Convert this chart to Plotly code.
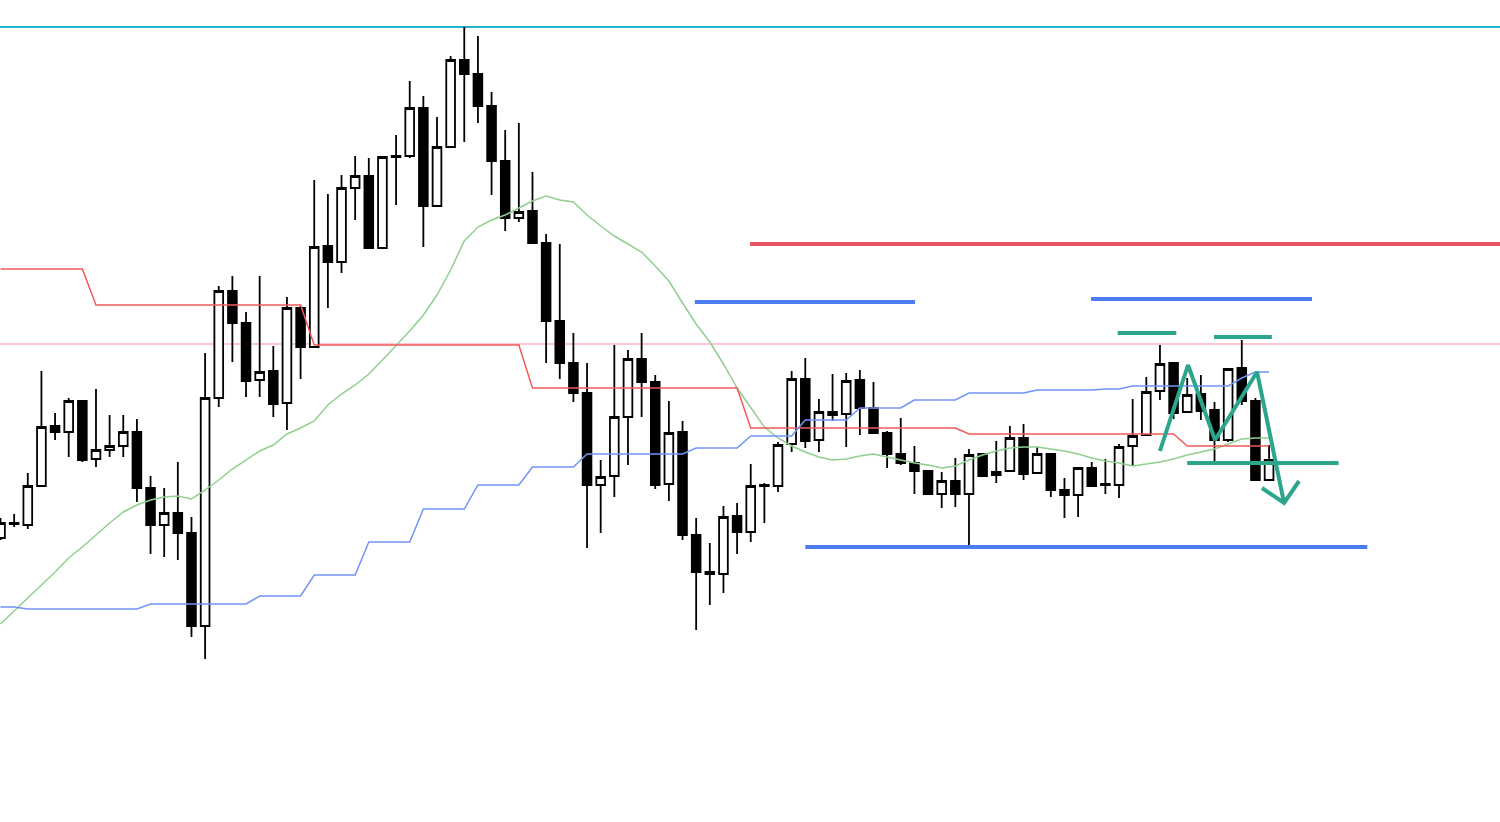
import plotly.graph_objects as go

# ---- data (price units) ----
open_ = [284, 299, 297, 336, 396, 390, 421, 363, 372, 376,
         390, 334, 297, 309, 289, 196, 424, 531, 499, 442,
         451, 419, 514, 475, 576, 560, 634, 646, 574, 665,
         666, 714, 616, 675, 762, 748, 716, 661, 604, 611,
         579, 501, 459, 429, 337, 346, 405, 463, 440, 338,
         390, 287, 250, 248, 306, 290, 336, 336, 378, 443,
         382, 410, 408, 442, 414, 389, 368, 359, 351, 328,
         341, 328, 368, 347, 351, 384, 349, 368, 332, 327,
         354, 338, 337, 376, 387, 431, 459, 410, 428, 412,
         382, 454, 421, 342]
high = [304, 308, 349, 451, 409, 424, 422, 433, 407, 407,
        403, 346, 334, 360, 305, 469, 536, 546, 510, 546,
        476, 525, 516, 642, 628, 647, 666, 664, 666, 687,
        741, 726, 705, 766, 795, 786, 730, 692, 699, 650,
        588, 578, 489, 459, 362, 477, 472, 489, 447, 421,
        401, 304, 279, 316, 319, 358, 339, 380, 451, 464,
        423, 448, 449, 452, 440, 391, 404, 376, 351, 350,
        364, 373, 368, 381, 396, 398, 375, 368, 344, 354,
        360, 363, 378, 423, 445, 477, 459, 444, 447, 420,
        453, 482, 424, 377]
low = [282, 295, 293, 335, 382, 365, 360, 355, 365, 365,
       320, 268, 265, 262, 185, 163, 415, 460, 425, 425,
       405, 392, 443, 474, 514, 549, 602, 574, 574, 617,
       664, 575, 616, 675, 680, 699, 627, 591, 600, 579,
       459, 443, 420, 274, 289, 325, 357, 405, 333, 321,
       282, 192, 217, 229, 268, 280, 299, 330, 370, 374,
       370, 401, 375, 387, 388, 354, 357, 328, 328, 314,
       315, 273, 346, 339, 351, 342, 349, 325, 304, 305,
       335, 328, 324, 356, 386, 422, 403, 410, 402, 359,
       380, 417, 342, 342]
close = [299, 298, 336, 395, 390, 421, 362, 372, 376, 390,
         334, 297, 309, 289, 196, 424, 531, 499, 441, 450,
         418, 514, 475, 575, 560, 634, 646, 574, 665, 666,
         714, 616, 675, 762, 748, 716, 661, 604, 610, 579,
         501, 459, 429, 337, 345, 405, 463, 440, 337, 389,
         287, 250, 248, 305, 290, 336, 337, 377, 443, 381,
         410, 407, 441, 414, 389, 368, 359, 351, 328, 341,
         328, 367, 346, 350, 384, 348, 368, 332, 327, 354,
         336, 337, 375, 386, 430, 458, 409, 427, 411, 382,
         453, 421, 342, 362]

# indicator lines (one value per candle)
base_line = ([553] * 7 + [517] * 16 + [477] * 16 + [434] * 16 +
             [394] * 16 + [388] * 16 + [376] * 7)
lower_band = ([215] * 2 + [213] * 9 + [218] * 8 + [226] * 4 + [247] * 4 +
              [280] * 4 + [313] * 4 + [337] * 4 + [355] * 4 + [368] * 8 +
              [374] * 4 + [386] * 4 + [402] * 4 + [414] * 4 + [422] * 4 +
              [429] * 5 + [432] * 5 + [433] * 2 + [436] * 8 + [444] + [450] * 2)
moving_avg = [198, 211, 224, 236, 250, 264, 275, 287, 299, 310,
              317, 322, 325, 326, 323, 332, 342, 353, 362, 371,
              377, 388, 394, 401, 417, 428, 437, 448, 462, 476,
              491, 507, 527, 552, 581, 595, 602, 607, 614, 621,
              626, 622, 620, 607, 596, 586, 578, 570, 556, 541,
              519, 498, 480, 458, 434, 414, 395, 384, 376, 370,
              365, 362, 363, 366, 368, 365, 362, 359, 357, 354,
              356, 362, 367, 371, 374, 375, 375, 373, 371, 368,
              364, 361, 359, 356, 358, 360, 363, 367, 370, 373,
              378, 383, 384, 384]

# horizontal reference levels
full_levels = [(795, "#22b5cc", 2), (478, "#f7b6c6", 1.5)]
drawn_levels = [
    (578, 54.95, 109.93, "#e8545f", 4),
    (520, 50.9, 67.05, "#4a7ef0", 4),
    (523, 79.95, 96.15, "#4a7ef0", 4),
    (275, 59.0, 100.2, "#4a7ef0", 4),
    (489, 81.9, 86.2, "#2ba58c", 4),
    (485, 88.97, 93.2, "#2ba58c", 4),
    (359, 87.0, 98.1, "#2ba58c", 4),
]
zigzag_x = [85.0, 87.06, 89.04, 92.12, 94.1]
zigzag_y = [371, 457, 382, 450, 319]
arrow_x = [92.48, 94.1, 95.2]
arrow_y = [334, 319, 341]

n = len(open_)
idx = list(range(n))

fig = go.Figure()

for price, col, w in full_levels:
    fig.add_shape(type="line", xref="paper", x0=0, x1=1, y0=price, y1=price,
                  line=dict(color=col, width=w), layer="below")

fig.add_trace(go.Scatter(x=idx, y=moving_avg, mode="lines",
                         line=dict(color="#8fcf8f", width=1.5), hoverinfo="skip"))
fig.add_trace(go.Scatter(x=idx, y=base_line, mode="lines",
                         line=dict(color="#f25a5a", width=1.5), hoverinfo="skip"))
fig.add_trace(go.Scatter(x=idx, y=lower_band, mode="lines",
                         line=dict(color="#7194f7", width=1.5), hoverinfo="skip"))

fig.add_trace(go.Candlestick(
    x=idx, open=open_, high=high, low=low, close=close,
    increasing=dict(fillcolor="#ffffff", line=dict(color="#000000", width=1.8)),
    decreasing=dict(fillcolor="#000000", line=dict(color="#000000", width=1.8)),
    whiskerwidth=0,
))

for price, xs, xe, col, w in drawn_levels:
    fig.add_shape(type="line", x0=xs, x1=xe, y0=price, y1=price,
                  line=dict(color=col, width=w))

fig.add_trace(go.Scatter(x=zigzag_x, y=zigzag_y, mode="lines",
                         line=dict(color="#2ba58c", width=4), hoverinfo="skip"))
fig.add_trace(go.Scatter(x=arrow_x, y=arrow_y, mode="lines",
                         line=dict(color="#2ba58c", width=4), hoverinfo="skip"))

fig.update_layout(
    width=1500, height=822,
    margin=dict(l=0, r=0, t=0, b=0),
    paper_bgcolor="#ffffff", plot_bgcolor="#ffffff",
    showlegend=False,
    boxgap=0.2, boxgroupgap=0.2,
    xaxis=dict(range=[-0.037, 109.93], visible=False, showgrid=False,
               rangeslider=dict(visible=False), fixedrange=True),
    yaxis=dict(range=[0, 822], visible=False, showgrid=False, fixedrange=True),
)

fig.write_html("out.html", config={"displayModeBar": False},
               post_script="document.body.style.margin='0';document.body.style.overflow='hidden';")
